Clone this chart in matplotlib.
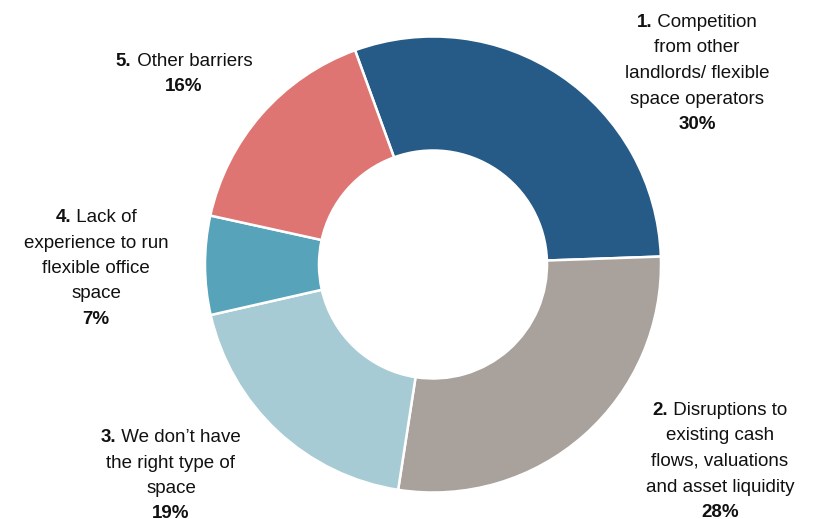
import matplotlib
matplotlib.use("Agg")
import matplotlib.pyplot as plt

# --- Data ---
values = [30, 28, 19, 7, 16]
numbers = ["1.", "2.", "3.", "4.", "5."]
labels = [
    ["Competition", "from other", "landlords/ flexible", "space operators"],
    ["Disruptions to", "existing cash", "flows, valuations", "and asset liquidity"],
    ["We don\u2019t have", "the right type of", "space"],
    ["Lack of", "experience to run", "flexible office", "space"],
    ["Other barriers"],
]
colors = ["#265B87", "#A9A19C", "#A7CBD4", "#57A3BA", "#DE7572"]

# label anchor: (x of centre, baseline of first line) in pixels from top-left
label_pos = [(697, 27), (720, 415), (171, 442), (96, 222), (184, 66)]

W, H = 815, 519
CX, CY, R = 433, 264.5, 228  # donut centre / radius in pixels

plt.rcParams["font.family"] = ["Liberation Sans", "DejaVu Sans"]

fig = plt.figure(figsize=(W / 100, H / 100), dpi=100)
ax = fig.add_axes([0, 0, 1, 1])
ax.pie(values, colors=colors, startangle=110, counterclock=False,
       wedgeprops=dict(width=0.5, edgecolor="white", linewidth=1.8))
ax.set_xlim(-CX / R, (W - CX) / R)
ax.set_ylim(-(H - CY) / R, CY / R)
ax.set_aspect("auto")
ax.axis("off")

FS = 13.5
STEP = 25.5
TXT = "#111111"
renderer = fig.canvas.get_renderer()


def width_px(s, weight):
    t = fig.text(0, 0, s, fontsize=FS, fontweight=weight)
    w = t.get_window_extent(renderer).width
    t.remove()
    return w


for num, lines, val, (px, py) in zip(numbers, labels, values, label_pos):
    # first line: bold number followed by regular text, centred together
    head = " " + lines[0]
    wb = width_px(num, "bold")
    wr = width_px(head, "normal")
    x0 = px - (wb + wr) / 2
    fig.text(x0 / W, 1 - py / H, num, ha="left", va="baseline",
             fontsize=FS, fontweight="bold", color=TXT)
    fig.text((x0 + wb) / W, 1 - py / H, head, ha="left", va="baseline",
             fontsize=FS, color=TXT)
    rows = lines[1:] + ["%d%%" % val]
    for i, row in enumerate(rows, start=1):
        y = py + i * STEP
        bold = i == len(rows)
        fig.text(px / W, 1 - y / H, row, ha="center", va="baseline",
                 fontsize=FS, fontweight="bold" if bold else "normal", color=TXT)

fig.savefig("out.png", dpi=100)
